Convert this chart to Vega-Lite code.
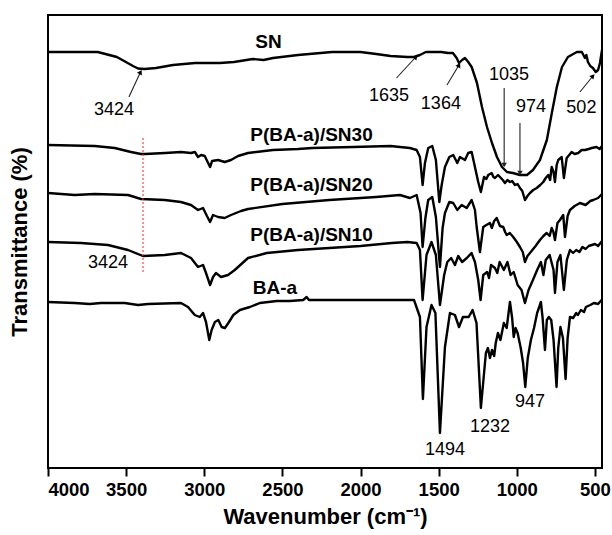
{
  "$schema": "https://vega.github.io/schema/vega-lite/v6.json",
  "width": 554,
  "height": 453,
  "autosize": {"type": "none"},
  "padding": {"left": 48, "top": 15, "right": 10, "bottom": 67},
  "background": "white",
  "config": {
    "view": {"stroke": "black", "strokeWidth": 2},
    "font": "Liberation Sans"
  },
  "datasets": {
    "spectra": [
      {"s":"SN","wn":4000,"t":416},{"s":"SN","wn":3682,"t":416},{"s":"SN","wn":3559,"t":411},{"s":"SN","wn":3456,"t":402},{"s":"SN","wn":3424,"t":399.5},{"s":"SN","wn":3383,"t":399},{"s":"SN","wn":3309,"t":400},{"s":"SN","wn":3200,"t":403},{"s":"SN","wn":3059,"t":405},{"s":"SN","wn":2900,"t":405},{"s":"SN","wn":2810,"t":406},{"s":"SN","wn":2690,"t":409},{"s":"SN","wn":2620,"t":408},{"s":"SN","wn":2560,"t":410},{"s":"SN","wn":2400,"t":413},{"s":"SN","wn":2183,"t":416},{"s":"SN","wn":2000,"t":416},{"s":"SN","wn":1900,"t":414},{"s":"SN","wn":1808,"t":412},{"s":"SN","wn":1700,"t":411},{"s":"SN","wn":1658,"t":411},{"s":"SN","wn":1620,"t":413},{"s":"SN","wn":1582,"t":416},{"s":"SN","wn":1485,"t":416},{"s":"SN","wn":1440,"t":415},{"s":"SN","wn":1409,"t":415},{"s":"SN","wn":1385,"t":410},{"s":"SN","wn":1370,"t":405},{"s":"SN","wn":1350,"t":408},{"s":"SN","wn":1332,"t":410},{"s":"SN","wn":1311,"t":406},{"s":"SN","wn":1289,"t":401},{"s":"SN","wn":1255,"t":385},{"s":"SN","wn":1223,"t":361},{"s":"SN","wn":1191,"t":341},{"s":"SN","wn":1159,"t":325},{"s":"SN","wn":1127,"t":311},{"s":"SN","wn":1095,"t":301},{"s":"SN","wn":1063,"t":296},{"s":"SN","wn":1025,"t":295},{"s":"SN","wn":980,"t":293},{"s":"SN","wn":935,"t":293},{"s":"SN","wn":897,"t":298},{"s":"SN","wn":852,"t":308},{"s":"SN","wn":808,"t":328},{"s":"SN","wn":776,"t":355},{"s":"SN","wn":744,"t":381},{"s":"SN","wn":711,"t":401},{"s":"SN","wn":673,"t":411},{"s":"SN","wn":616,"t":416},{"s":"SN","wn":584,"t":416},{"s":"SN","wn":564,"t":410},{"s":"SN","wn":555,"t":413},{"s":"SN","wn":545,"t":406},{"s":"SN","wn":530,"t":402},{"s":"SN","wn":513,"t":400},{"s":"SN","wn":495,"t":396},{"s":"SN","wn":480,"t":398},{"s":"SN","wn":468,"t":405},{"s":"SN","wn":455,"t":418},

      {"s":"SN30","wn":4000,"t":323},{"s":"SN30","wn":3701,"t":322},{"s":"SN30","wn":3573,"t":320},{"s":"SN30","wn":3469,"t":316},{"s":"SN30","wn":3405,"t":314},{"s":"SN30","wn":3380,"t":314},{"s":"SN30","wn":3250,"t":315},{"s":"SN30","wn":3149,"t":316},{"s":"SN30","wn":3085,"t":315},{"s":"SN30","wn":3060,"t":316},{"s":"SN30","wn":3040,"t":311},{"s":"SN30","wn":3020,"t":313},{"s":"SN30","wn":2997,"t":312},{"s":"SN30","wn":2963,"t":301},{"s":"SN30","wn":2950,"t":307},{"s":"SN30","wn":2912,"t":308},{"s":"SN30","wn":2869,"t":306},{"s":"SN30","wn":2829,"t":308},{"s":"SN30","wn":2784,"t":312},{"s":"SN30","wn":2720,"t":315},{"s":"SN30","wn":2560,"t":318},{"s":"SN30","wn":2400,"t":319},{"s":"SN30","wn":2308,"t":320},{"s":"SN30","wn":2050,"t":321},{"s":"SN30","wn":1808,"t":322},{"s":"SN30","wn":1748,"t":321},{"s":"SN30","wn":1684,"t":320},{"s":"SN30","wn":1641,"t":318},{"s":"SN30","wn":1620,"t":311},{"s":"SN30","wn":1603,"t":283},{"s":"SN30","wn":1588,"t":305},{"s":"SN30","wn":1567,"t":320},{"s":"SN30","wn":1541,"t":322},{"s":"SN30","wn":1518,"t":308},{"s":"SN30","wn":1496,"t":266},{"s":"SN30","wn":1481,"t":283},{"s":"SN30","wn":1460,"t":301},{"s":"SN30","wn":1432,"t":311},{"s":"SN30","wn":1407,"t":313},{"s":"SN30","wn":1381,"t":305},{"s":"SN30","wn":1364,"t":311},{"s":"SN30","wn":1332,"t":308},{"s":"SN30","wn":1311,"t":315},{"s":"SN30","wn":1289,"t":316},{"s":"SN30","wn":1268,"t":301},{"s":"SN30","wn":1247,"t":286},{"s":"SN30","wn":1230,"t":276},{"s":"SN30","wn":1210,"t":291},{"s":"SN30","wn":1195,"t":289},{"s":"SN30","wn":1183,"t":293},{"s":"SN30","wn":1161,"t":295},{"s":"SN30","wn":1150,"t":291},{"s":"SN30","wn":1140,"t":290},{"s":"SN30","wn":1120,"t":293},{"s":"SN30","wn":1108,"t":291},{"s":"SN30","wn":1090,"t":288},{"s":"SN30","wn":1076,"t":285},{"s":"SN30","wn":1060,"t":288},{"s":"SN30","wn":1044,"t":286},{"s":"SN30","wn":1030,"t":287},{"s":"SN30","wn":1012,"t":283},{"s":"SN30","wn":995,"t":284},{"s":"SN30","wn":980,"t":280},{"s":"SN30","wn":965,"t":277},{"s":"SN30","wn":948,"t":268},{"s":"SN30","wn":932,"t":272},{"s":"SN30","wn":916,"t":275},{"s":"SN30","wn":895,"t":278},{"s":"SN30","wn":873,"t":280},{"s":"SN30","wn":850,"t":283},{"s":"SN30","wn":831,"t":286},{"s":"SN30","wn":815,"t":290},{"s":"SN30","wn":799,"t":293},{"s":"SN30","wn":787,"t":288},{"s":"SN30","wn":777,"t":301},{"s":"SN30","wn":765,"t":296},{"s":"SN30","wn":756,"t":286},{"s":"SN30","wn":745,"t":303},{"s":"SN30","wn":735,"t":308},{"s":"SN30","wn":713,"t":311},{"s":"SN30","wn":699,"t":290},{"s":"SN30","wn":681,"t":310},{"s":"SN30","wn":649,"t":316},{"s":"SN30","wn":630,"t":314},{"s":"SN30","wn":607,"t":315},{"s":"SN30","wn":585,"t":318},{"s":"SN30","wn":564,"t":318},{"s":"SN30","wn":540,"t":319},{"s":"SN30","wn":521,"t":320},{"s":"SN30","wn":490,"t":321},{"s":"SN30","wn":470,"t":319},{"s":"SN30","wn":455,"t":322},

      {"s":"SN20","wn":4000,"t":275},{"s":"SN20","wn":3829,"t":273},{"s":"SN20","wn":3701,"t":274},{"s":"SN20","wn":3488,"t":273},{"s":"SN20","wn":3405,"t":269},{"s":"SN20","wn":3253,"t":268},{"s":"SN20","wn":3149,"t":266},{"s":"SN20","wn":3085,"t":263},{"s":"SN20","wn":3040,"t":258},{"s":"SN20","wn":3008,"t":260},{"s":"SN20","wn":2983,"t":252},{"s":"SN20","wn":2963,"t":246},{"s":"SN20","wn":2944,"t":253},{"s":"SN20","wn":2912,"t":251},{"s":"SN20","wn":2869,"t":250},{"s":"SN20","wn":2829,"t":253},{"s":"SN20","wn":2765,"t":257},{"s":"SN20","wn":2720,"t":259},{"s":"SN20","wn":2500,"t":264},{"s":"SN20","wn":2200,"t":268},{"s":"SN20","wn":1900,"t":271},{"s":"SN20","wn":1748,"t":273},{"s":"SN20","wn":1684,"t":270},{"s":"SN20","wn":1641,"t":273},{"s":"SN20","wn":1616,"t":255},{"s":"SN20","wn":1603,"t":221},{"s":"SN20","wn":1585,"t":250},{"s":"SN20","wn":1567,"t":268},{"s":"SN20","wn":1541,"t":271},{"s":"SN20","wn":1518,"t":251},{"s":"SN20","wn":1492,"t":201},{"s":"SN20","wn":1475,"t":240},{"s":"SN20","wn":1460,"t":255},{"s":"SN20","wn":1432,"t":266},{"s":"SN20","wn":1407,"t":265},{"s":"SN20","wn":1381,"t":258},{"s":"SN20","wn":1353,"t":263},{"s":"SN20","wn":1321,"t":260},{"s":"SN20","wn":1289,"t":268},{"s":"SN20","wn":1268,"t":258},{"s":"SN20","wn":1257,"t":241},{"s":"SN20","wn":1236,"t":216},{"s":"SN20","wn":1215,"t":241},{"s":"SN20","wn":1195,"t":243},{"s":"SN20","wn":1172,"t":245},{"s":"SN20","wn":1160,"t":240},{"s":"SN20","wn":1145,"t":247},{"s":"SN20","wn":1129,"t":250},{"s":"SN20","wn":1108,"t":242},{"s":"SN20","wn":1087,"t":241},{"s":"SN20","wn":1075,"t":236},{"s":"SN20","wn":1065,"t":233},{"s":"SN20","wn":1045,"t":235},{"s":"SN20","wn":1023,"t":231},{"s":"SN20","wn":1000,"t":226},{"s":"SN20","wn":980,"t":221},{"s":"SN20","wn":962,"t":216},{"s":"SN20","wn":948,"t":206},{"s":"SN20","wn":932,"t":212},{"s":"SN20","wn":916,"t":215},{"s":"SN20","wn":880,"t":222},{"s":"SN20","wn":852,"t":228},{"s":"SN20","wn":830,"t":232},{"s":"SN20","wn":809,"t":235},{"s":"SN20","wn":790,"t":232},{"s":"SN20","wn":777,"t":240},{"s":"SN20","wn":766,"t":236},{"s":"SN20","wn":756,"t":228},{"s":"SN20","wn":740,"t":245},{"s":"SN20","wn":724,"t":248},{"s":"SN20","wn":703,"t":253},{"s":"SN20","wn":692,"t":231},{"s":"SN20","wn":675,"t":252},{"s":"SN20","wn":660,"t":258},{"s":"SN20","wn":630,"t":262},{"s":"SN20","wn":596,"t":265},{"s":"SN20","wn":560,"t":263},{"s":"SN20","wn":530,"t":267},{"s":"SN20","wn":511,"t":268},{"s":"SN20","wn":480,"t":270},{"s":"SN20","wn":455,"t":274},

      {"s":"SN10","wn":4000,"t":226},{"s":"SN10","wn":3789,"t":225},{"s":"SN10","wn":3616,"t":223},{"s":"SN10","wn":3488,"t":218},{"s":"SN10","wn":3392,"t":212},{"s":"SN10","wn":3253,"t":213},{"s":"SN10","wn":3149,"t":215},{"s":"SN10","wn":3085,"t":210},{"s":"SN10","wn":3040,"t":201},{"s":"SN10","wn":3008,"t":203},{"s":"SN10","wn":2989,"t":195},{"s":"SN10","wn":2963,"t":183},{"s":"SN10","wn":2944,"t":191},{"s":"SN10","wn":2925,"t":195},{"s":"SN10","wn":2893,"t":191},{"s":"SN10","wn":2848,"t":193},{"s":"SN10","wn":2805,"t":198},{"s":"SN10","wn":2720,"t":210},{"s":"SN10","wn":2600,"t":215},{"s":"SN10","wn":2400,"t":218},{"s":"SN10","wn":2200,"t":220},{"s":"SN10","wn":2000,"t":222},{"s":"SN10","wn":1800,"t":225},{"s":"SN10","wn":1700,"t":226},{"s":"SN10","wn":1641,"t":225},{"s":"SN10","wn":1620,"t":218},{"s":"SN10","wn":1603,"t":168},{"s":"SN10","wn":1578,"t":213},{"s":"SN10","wn":1546,"t":226},{"s":"SN10","wn":1518,"t":213},{"s":"SN10","wn":1492,"t":163},{"s":"SN10","wn":1465,"t":193},{"s":"SN10","wn":1445,"t":206},{"s":"SN10","wn":1420,"t":210},{"s":"SN10","wn":1396,"t":203},{"s":"SN10","wn":1375,"t":212},{"s":"SN10","wn":1350,"t":206},{"s":"SN10","wn":1320,"t":210},{"s":"SN10","wn":1290,"t":215},{"s":"SN10","wn":1268,"t":206},{"s":"SN10","wn":1247,"t":188},{"s":"SN10","wn":1232,"t":168},{"s":"SN10","wn":1215,"t":193},{"s":"SN10","wn":1190,"t":196},{"s":"SN10","wn":1178,"t":190},{"s":"SN10","wn":1165,"t":203},{"s":"SN10","wn":1140,"t":200},{"s":"SN10","wn":1125,"t":195},{"s":"SN10","wn":1110,"t":206},{"s":"SN10","wn":1083,"t":198},{"s":"SN10","wn":1060,"t":206},{"s":"SN10","wn":1040,"t":193},{"s":"SN10","wn":1020,"t":196},{"s":"SN10","wn":995,"t":183},{"s":"SN10","wn":970,"t":178},{"s":"SN10","wn":948,"t":165},{"s":"SN10","wn":925,"t":178},{"s":"SN10","wn":897,"t":188},{"s":"SN10","wn":870,"t":198},{"s":"SN10","wn":846,"t":206},{"s":"SN10","wn":830,"t":193},{"s":"SN10","wn":815,"t":208},{"s":"SN10","wn":790,"t":213},{"s":"SN10","wn":765,"t":198},{"s":"SN10","wn":756,"t":175},{"s":"SN10","wn":740,"t":206},{"s":"SN10","wn":721,"t":213},{"s":"SN10","wn":699,"t":178},{"s":"SN10","wn":680,"t":208},{"s":"SN10","wn":660,"t":218},{"s":"SN10","wn":640,"t":215},{"s":"SN10","wn":620,"t":218},{"s":"SN10","wn":600,"t":216},{"s":"SN10","wn":580,"t":221},{"s":"SN10","wn":560,"t":219},{"s":"SN10","wn":540,"t":222},{"s":"SN10","wn":500,"t":224},{"s":"SN10","wn":480,"t":222},{"s":"SN10","wn":455,"t":227},

      {"s":"BA","wn":4000,"t":166},{"s":"BA","wn":3829,"t":165},{"s":"BA","wn":3733,"t":164},{"s":"BA","wn":3661,"t":165},{"s":"BA","wn":3509,"t":165},{"s":"BA","wn":3424,"t":163},{"s":"BA","wn":3360,"t":164},{"s":"BA","wn":3149,"t":165},{"s":"BA","wn":3104,"t":161},{"s":"BA","wn":3061,"t":153},{"s":"BA","wn":3029,"t":151},{"s":"BA","wn":3008,"t":155},{"s":"BA","wn":2989,"t":146},{"s":"BA","wn":2968,"t":128},{"s":"BA","wn":2953,"t":138},{"s":"BA","wn":2932,"t":146},{"s":"BA","wn":2910,"t":148},{"s":"BA","wn":2889,"t":141},{"s":"BA","wn":2868,"t":140},{"s":"BA","wn":2846,"t":145},{"s":"BA","wn":2814,"t":153},{"s":"BA","wn":2772,"t":158},{"s":"BA","wn":2708,"t":161},{"s":"BA","wn":2644,"t":165},{"s":"BA","wn":2537,"t":167},{"s":"BA","wn":2452,"t":167},{"s":"BA","wn":2367,"t":168},{"s":"BA","wn":2345,"t":171},{"s":"BA","wn":2330,"t":168},{"s":"BA","wn":2200,"t":168},{"s":"BA","wn":2000,"t":168},{"s":"BA","wn":1800,"t":168},{"s":"BA","wn":1658,"t":168},{"s":"BA","wn":1620,"t":151},{"s":"BA","wn":1601,"t":69},{"s":"BA","wn":1578,"t":141},{"s":"BA","wn":1546,"t":163},{"s":"BA","wn":1521,"t":155},{"s":"BA","wn":1492,"t":35},{"s":"BA","wn":1460,"t":121},{"s":"BA","wn":1428,"t":155},{"s":"BA","wn":1396,"t":153},{"s":"BA","wn":1370,"t":141},{"s":"BA","wn":1345,"t":151},{"s":"BA","wn":1308,"t":151},{"s":"BA","wn":1283,"t":158},{"s":"BA","wn":1258,"t":145},{"s":"BA","wn":1230,"t":60},{"s":"BA","wn":1198,"t":115},{"s":"BA","wn":1185,"t":120},{"s":"BA","wn":1172,"t":110},{"s":"BA","wn":1159,"t":118},{"s":"BA","wn":1145,"t":112},{"s":"BA","wn":1135,"t":125},{"s":"BA","wn":1121,"t":135},{"s":"BA","wn":1105,"t":128},{"s":"BA","wn":1083,"t":145},{"s":"BA","wn":1065,"t":140},{"s":"BA","wn":1044,"t":166},{"s":"BA","wn":1030,"t":150},{"s":"BA","wn":1020,"t":131},{"s":"BA","wn":1008,"t":140},{"s":"BA","wn":995,"t":135},{"s":"BA","wn":975,"t":120},{"s":"BA","wn":960,"t":105},{"s":"BA","wn":946,"t":81},{"s":"BA","wn":930,"t":110},{"s":"BA","wn":910,"t":128},{"s":"BA","wn":890,"t":140},{"s":"BA","wn":870,"t":155},{"s":"BA","wn":846,"t":166},{"s":"BA","wn":835,"t":150},{"s":"BA","wn":820,"t":118},{"s":"BA","wn":808,"t":148},{"s":"BA","wn":795,"t":151},{"s":"BA","wn":780,"t":148},{"s":"BA","wn":765,"t":128},{"s":"BA","wn":746,"t":81},{"s":"BA","wn":735,"t":120},{"s":"BA","wn":721,"t":141},{"s":"BA","wn":705,"t":130},{"s":"BA","wn":688,"t":89},{"s":"BA","wn":675,"t":130},{"s":"BA","wn":660,"t":151},{"s":"BA","wn":640,"t":150},{"s":"BA","wn":620,"t":155},{"s":"BA","wn":609,"t":153},{"s":"BA","wn":590,"t":158},{"s":"BA","wn":570,"t":156},{"s":"BA","wn":558,"t":161},{"s":"BA","wn":530,"t":163},{"s":"BA","wn":507,"t":165},{"s":"BA","wn":480,"t":164},{"s":"BA","wn":458,"t":168}
    ],
    "names": [
      {"wn":2589,"t":426,"text":"SN"},
      {"wn":2314,"t":333,"text":"P(BA-a)/SN30"},
      {"wn":2314,"t":283,"text":"P(BA-a)/SN20"},
      {"wn":2314,"t":233,"text":"P(BA-a)/SN10"},
      {"wn":2548,"t":180,"text":"BA-a"}
    ],
    "peaks": [
      {"wn":3578,"t":358,"text":"3424"},
      {"wn":1818,"t":372,"text":"1635"},
      {"wn":1486,"t":364,"text":"1364"},
      {"wn":1050,"t":393,"text":"1035"},
      {"wn":910,"t":361,"text":"974"},
      {"wn":587,"t":360,"text":"502"},
      {"wn":3616,"t":205,"text":"3424"},
      {"wn":1460,"t":18,"text":"1494"},
      {"wn":1172,"t":41,"text":"1232"},
      {"wn":916,"t":66,"text":"947"}
    ],
    "arrows": [
      {"id":"a3424","wn":3482,"t":371,"wn2":3408,"t2":396},
      {"id":"a1635","wn":1770,"t":390,"wn2":1646,"t2":411},
      {"id":"a1364","wn":1447,"t":383,"wn2":1370,"t2":403},
      {"id":"a1035","wn":1081,"t":380,"wn2":1081,"t2":303},
      {"id":"a974","wn":980,"t":345,"wn2":980,"t2":295},
      {"id":"a502","wn":596,"t":376,"wn2":513,"t2":392}
    ],
    "ref": [
      {"wn":3392,"t":330,"t2":195}
    ]
  },
  "encoding": {
    "x": {
      "field": "wn", "type": "quantitative",
      "scale": {"domain": [455, 4000], "reverse": true, "nice": false, "zero": false},
      "axis": {
        "values": [4000, 3500, 3000, 2500, 2000, 1500, 1000, 500],
        "format": "d", "grid": false, "domain": false,
        "tickColor": "black", "tickWidth": 2, "tickSize": 8,
        "labelFont": "Liberation Sans", "labelFontWeight": "bold", "labelFontSize": 18.5, "labelColor": "black", "labelPadding": 4,
        "title": "Wavenumber (cm⁻¹)", "titleFont": "Liberation Sans", "titleFontWeight": "bold", "titleFontSize": 22, "titleColor": "black", "titlePadding": 8
      }
    },
    "y": {
      "field": "t", "type": "quantitative",
      "scale": {"domain": [0, 453], "nice": false, "zero": false},
      "axis": {
        "labels": false, "ticks": false, "domain": false, "grid": false,
        "title": "Transmittance (%)", "titleFont": "Liberation Sans", "titleFontWeight": "bold", "titleFontSize": 22, "titleColor": "black", "titlePadding": 17
      }
    }
  },
  "layer": [
    {
      "data": {"name": "spectra"},
      "mark": {"type": "line", "color": "black", "strokeWidth": 2.4, "strokeJoin": "round"},
      "encoding": {"detail": {"field": "s"}}
    },
    {
      "data": {"name": "ref"},
      "mark": {"type": "rule", "color": "#ff2020", "strokeWidth": 1, "strokeDash": [2, 2]},
      "encoding": {"y2": {"field": "t2"}}
    },
    {
      "data": {"name": "arrows"},
      "mark": {"type": "rule", "color": "#222222", "strokeWidth": 1.1},
      "encoding": {"x2": {"field": "wn2"}, "y2": {"field": "t2"}}
    },
    {
      "data": {"name": "arrows"},
      "transform": [{"filter": "datum.id == 'a3424' || datum.id == 'a1364'"}],
      "mark": {"type": "point", "shape": "triangle-up", "filled": true, "color": "black", "size": 30, "angle": 28, "opacity": 1},
      "encoding": {"x": {"field": "wn2", "type": "quantitative"}, "y": {"field": "t2", "type": "quantitative"}}
    },
    {
      "data": {"name": "arrows"},
      "transform": [{"filter": "datum.id == 'a1635' || datum.id == 'a502'"}],
      "mark": {"type": "point", "shape": "triangle-up", "filled": true, "color": "black", "size": 30, "angle": 42, "opacity": 1},
      "encoding": {"x": {"field": "wn2", "type": "quantitative"}, "y": {"field": "t2", "type": "quantitative"}}
    },
    {
      "data": {"name": "arrows"},
      "transform": [{"filter": "datum.id == 'a1035' || datum.id == 'a974'"}],
      "mark": {"type": "point", "shape": "triangle-down", "filled": true, "color": "#222222", "size": 30, "opacity": 1},
      "encoding": {"x": {"field": "wn2", "type": "quantitative"}, "y": {"field": "t2", "type": "quantitative"}}
    },
    {
      "data": {"name": "names"},
      "mark": {"type": "text", "font": "Liberation Sans", "fontWeight": "bold", "fontSize": 19, "color": "black", "align": "center", "baseline": "middle"},
      "encoding": {"text": {"field": "text"}}
    },
    {
      "data": {"name": "peaks"},
      "mark": {"type": "text", "font": "Liberation Sans", "fontSize": 18, "color": "black", "align": "center", "baseline": "middle"},
      "encoding": {"text": {"field": "text"}}
    }
  ]
}
